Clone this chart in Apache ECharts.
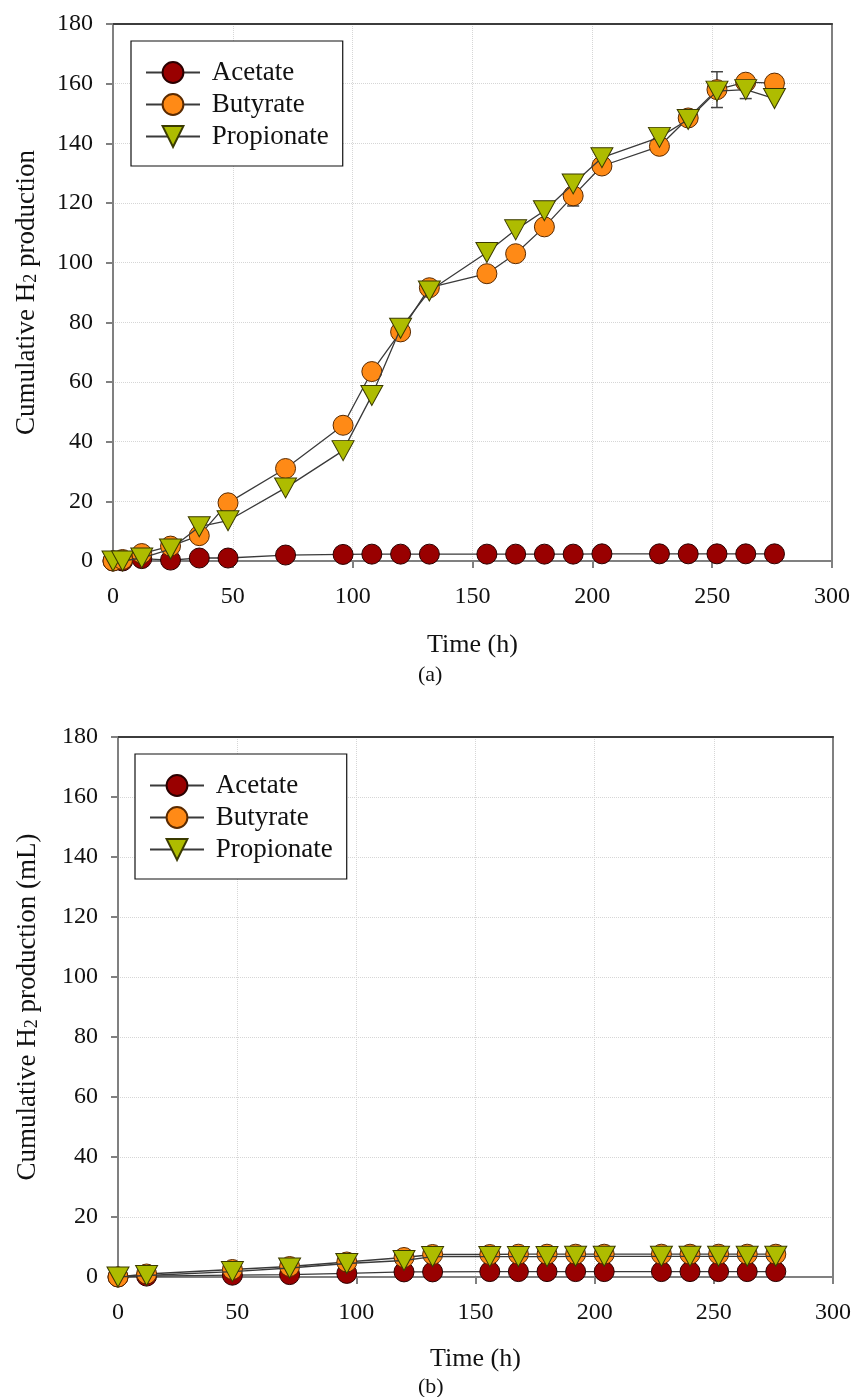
<!DOCTYPE html>
<html>
<head>
<meta charset="utf-8">
<script src="https://cdn.jsdelivr.net/npm/echarts@6/dist/echarts.min.js"></script>
<style>
  html, body { margin: 0; padding: 0; background: #fff; }
  #chart { width: 856px; height: 1397px; }
</style>
</head>
<body>
<div id="chart"></div>
<script>
// panel (a)
const timeA = [0, 4, 12, 24, 36, 48, 72, 96, 108, 120, 132, 156, 168, 180, 192, 204, 228, 240, 252, 264, 276];
const acetateA = [0, 0, 0.8, 0.3, 1, 1, 2, 2.2, 2.3, 2.3, 2.3, 2.3, 2.3, 2.3, 2.3, 2.4, 2.4, 2.4, 2.4, 2.4, 2.4];
const butyrateA = [0, 0.5, 2.5, 5, 8.5, 19.5, 31, 45.5, 63.5, 76.8, 91.6, 96.3, 103, 112, 122.4, 132.4, 139, 148.5, 158, 160.5, 160.2];
const propionateA = [0, 0, 1, 4, 11.5, 13.5, 24.5, 37, 55.5, 78, 90.5, 103.4, 111, 117.4, 126.4, 135.2, 142, 148, 157.5, 158, 155];
const errTimeA = [192, 252, 264];
const errLowA = [119, 152, 155];
const errHighA = [125, 164, 161];

// panel (b)
const timeB = [0, 12, 48, 72, 96, 120, 132, 156, 168, 180, 192, 204, 228, 240, 252, 264, 276];
const acetateB = [0, 0.3, 0.6, 0.8, 1.2, 1.7, 1.7, 1.8, 1.8, 1.8, 1.8, 1.8, 1.8, 1.8, 1.8, 1.8, 1.8];
const butyrateB = [0, 1, 2.5, 3.5, 5, 6.5, 7.5, 7.5, 7.6, 7.6, 7.6, 7.6, 7.6, 7.6, 7.6, 7.6, 7.6];
const propionateB = [0, 0.5, 1.8, 3, 4.5, 5.5, 6.8, 6.8, 6.8, 6.8, 6.9, 6.9, 6.9, 6.9, 6.9, 6.9, 6.9];

const xTicks = [0, 50, 100, 150, 200, 250, 300];
const yTicks = [0, 20, 40, 60, 80, 100, 120, 140, 160, 180];
const seriesNames = ["Acetate", "Butyrate", "Propionate"];

const FONT = "'Liberation Serif', 'Times New Roman', serif";
const colors = { Acetate: "#990000", Butyrate: "#ff8a16", Propionate: "#aebc00" };

function pairs(xs, ys) {
  return xs.map((x, i) => [x, ys[i]]);
}

function makeX(gridIndex, gap) {
  return {
    type: "value",
    gridIndex: gridIndex,
    min: xTicks[0],
    max: xTicks[xTicks.length - 1],
    interval: 50,
    name: "Time (h)",
    nameLocation: "middle",
    nameGap: gap,
    nameTextStyle: { fontFamily: FONT, fontSize: 26, color: "#111" },
    axisLine: { lineStyle: { color: "#808080", width: 2 } },
    axisTick: { show: true, length: 7, lineStyle: { color: "#808080", width: 2 } },
    axisLabel: { margin: 24, fontFamily: FONT, fontSize: 24, color: "#111" },
    splitLine: { show: true, lineStyle: { type: "dotted", color: "#d6d6d6", width: 1 } },
  };
}

function makeY(gridIndex, name, gap) {
  return {
    type: "value",
    gridIndex: gridIndex,
    min: yTicks[0],
    max: yTicks[yTicks.length - 1],
    interval: 20,
    name: name,
    nameLocation: "middle",
    nameGap: gap,
    nameTextStyle: {
      fontFamily: FONT,
      fontSize: 27,
      color: "#111",
      rich: {
        sub: { fontFamily: FONT, fontSize: 18, color: "#111", verticalAlign: "bottom", lineHeight: 18 },
      },
    },
    axisLine: { show: true, lineStyle: { color: "#808080", width: 2 } },
    axisTick: { show: true, length: 7, lineStyle: { color: "#808080", width: 2 } },
    axisLabel: { margin: 20, fontFamily: FONT, fontSize: 24, color: "#111" },
    splitLine: { show: true, lineStyle: { type: "dotted", color: "#d6d6d6", width: 1 } },
  };
}

// frame-only axes for the top and right edges of each plot
function frameX(gridIndex) {
  return {
    type: "value", gridIndex: gridIndex, position: "top",
    min: xTicks[0], max: xTicks[xTicks.length - 1],
    axisLine: { show: true, onZero: false, lineStyle: { color: "#3c3c3c", width: 2 } },
    axisTick: { show: false }, axisLabel: { show: false }, splitLine: { show: false },
  };
}
function frameY(gridIndex) {
  return {
    type: "value", gridIndex: gridIndex, position: "right",
    min: yTicks[0], max: yTicks[yTicks.length - 1],
    axisLine: { show: true, onZero: false, lineStyle: { color: "#808080", width: 2 } },
    axisTick: { show: false }, axisLabel: { show: false }, splitLine: { show: false },
  };
}

function makeSeries(idx, acetate, butyrate, propionate, times) {
  const common = {
    type: "line",
    xAxisIndex: idx,
    yAxisIndex: idx,
    lineStyle: { color: "#3a3a3a", width: 1.3 },
    emphasis: { disabled: true },
    animation: false,
  };
  return [
    Object.assign({}, common, {
      name: "Acetate",
      data: pairs(times, acetate),
      symbol: "circle",
      symbolSize: 20,
      itemStyle: { color: colors.Acetate, borderColor: "#2a0000", borderWidth: 1 },
      z: 3,
    }),
    Object.assign({}, common, {
      name: "Butyrate",
      data: pairs(times, butyrate),
      symbol: "circle",
      symbolSize: 20,
      itemStyle: { color: colors.Butyrate, borderColor: "#5a2a00", borderWidth: 1 },
      z: 4,
    }),
    Object.assign({}, common, {
      name: "Propionate",
      data: pairs(times, propionate),
      symbol: "triangle",
      symbolRotate: 180,
      symbolSize: [22, 20],
      itemStyle: { color: colors.Propionate, borderColor: "#3a3a00", borderWidth: 1 },
      z: 5,
    }),
  ];
}

function legend(left, top) {
  return {
    data: seriesNames,
    orient: "vertical",
    left: left,
    top: top,
    itemWidth: 54,
    itemHeight: 26,
    itemGap: 5,
    padding: [18, 14, 16, 14],
    borderColor: "#111",
    borderWidth: 1.2,
    backgroundColor: "#fff",
    selectedMode: false,
    formatter: (n) => " " + n,
    textStyle: { fontFamily: FONT, fontSize: 27, color: "#111" },
  };
}

const errorBars = {
  type: "custom",
  xAxisIndex: 0,
  yAxisIndex: 0,
  z: 2,
  animation: false,
  data: errTimeA.map((t, i) => [t, errLowA[i], errHighA[i]]),
  renderItem: function (params, api) {
    const lo = api.coord([api.value(0), api.value(1)]);
    const hi = api.coord([api.value(0), api.value(2)]);
    const w = 6;
    const st = { stroke: "#444", lineWidth: 1.5 };
    return {
      type: "group",
      children: [
        { type: "line", shape: { x1: lo[0], y1: lo[1], x2: hi[0], y2: hi[1] }, style: st },
        { type: "line", shape: { x1: lo[0] - w, y1: lo[1], x2: lo[0] + w, y2: lo[1] }, style: st },
        { type: "line", shape: { x1: hi[0] - w, y1: hi[1], x2: hi[0] + w, y2: hi[1] }, style: st },
      ],
    };
  },
};

const chart = echarts.init(document.getElementById("chart"), null, { renderer: "canvas" });
chart.setOption({
  animation: false,
  backgroundColor: "#fff",
  grid: [
    { left: 113, right: 24, top: 24, height: 537 },
    { left: 118, right: 23, top: 737, height: 540 },
  ],
  xAxis: [makeX(0, 71), makeX(1, 69), frameX(0), frameX(1)],
  yAxis: [
    makeY(0, "Cumulative H{sub|2} production", 73),
    makeY(1, "Cumulative H{sub|2} production (mL)", 77),
    frameY(0),
    frameY(1),
  ],
  legend: [legend(131, 41), legend(135, 754)],
  graphic: [
    { type: "text", left: 418, top: 664, style: { text: "(a)", font: "22px " + FONT, fill: "#111" } },
    { type: "text", left: 418, top: 1376, style: { text: "(b)", font: "22px " + FONT, fill: "#111" } },
  ],
  series: [errorBars]
    .concat(makeSeries(0, acetateA, butyrateA, propionateA, timeA))
    .concat(makeSeries(1, acetateB, butyrateB, propionateB, timeB)),
});
</script>
</body>
</html>
